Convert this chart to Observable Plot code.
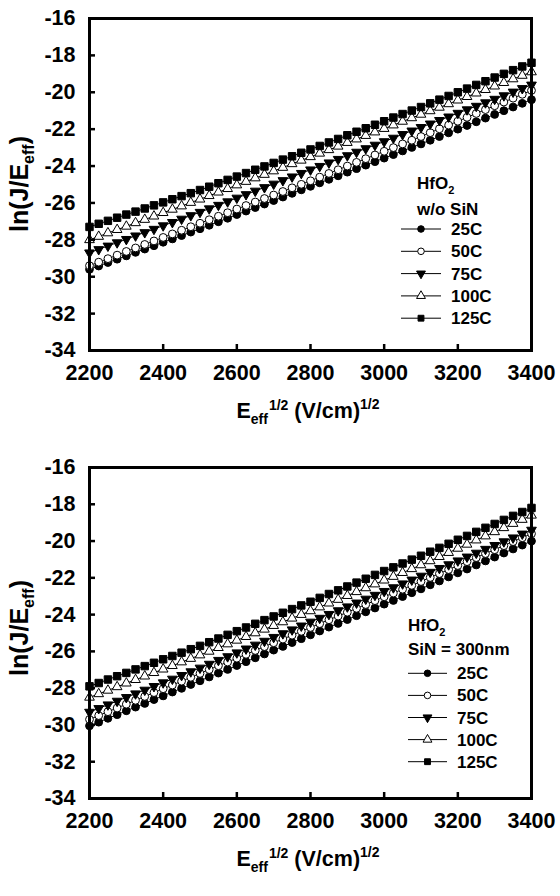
<!DOCTYPE html>
<html><head><meta charset="utf-8">
<script src="https://cdn.jsdelivr.net/npm/d3@7"></script>
<script src="https://cdn.jsdelivr.net/npm/@observablehq/plot@0.6"></script>
<style>
html,body{margin:0;padding:0;background:#fff;}
#wrap{position:relative;width:560px;height:896px;overflow:hidden;}
#wrap svg{position:absolute;left:0;display:block;}
</style></head><body><div id="wrap"></div>
<script>
// x grid: E_eff^1/2 (V/cm)^1/2
const E = [2200,2225,2250,2275,2300,2325,2350,2375,2400,2425,2450,2475,2500,
  2525,2550,2575,2600,2625,2650,2675,2700,2725,2750,2775,2800,
  2825,2850,2875,2900,2925,2950,2975,3000,3025,3050,3075,3100,
  3125,3150,3175,3200,3225,3250,3275,3300,3325,3350,3375,3400];

const seriesNames = ["25C","50C","75C","100C","125C"];
const xTicks = [2200,2400,2600,2800,3000,3200,3400];
const yTicks = [-34,-32,-30,-28,-26,-24,-22,-20,-18,-16];

// Top panel: HfO2 w/o SiN
const top25 = [-29.6,-29.42,-29.23,-29.05,-28.87,-28.68,-28.5,-28.32,-28.13,-27.95,-27.77,-27.58,-27.4,
  -27.21,-27.02,-26.83,-26.63,-26.44,-26.25,-26.06,-25.87,-25.68,-25.48,-25.29,-25.1,
  -24.91,-24.72,-24.53,-24.33,-24.14,-23.95,-23.76,-23.57,-23.38,-23.18,-22.99,-22.8,
  -22.6,-22.4,-22.2,-22.0,-21.8,-21.6,-21.4,-21.2,-21.0,-20.8,-20.6,-20.4];
const top50 = [-29.4,-29.21,-29.02,-28.83,-28.63,-28.44,-28.25,-28.06,-27.87,-27.68,-27.48,-27.29,-27.1,
  -26.91,-26.72,-26.53,-26.33,-26.14,-25.95,-25.76,-25.57,-25.38,-25.18,-24.99,-24.8,
  -24.6,-24.4,-24.2,-24.0,-23.8,-23.6,-23.4,-23.2,-23.0,-22.8,-22.6,-22.4,
  -22.19,-21.98,-21.78,-21.57,-21.36,-21.15,-20.94,-20.73,-20.53,-20.32,-20.11,-19.9];
const top75 = [-28.7,-28.52,-28.33,-28.15,-27.97,-27.78,-27.6,-27.42,-27.23,-27.05,-26.87,-26.68,-26.5,
  -26.31,-26.12,-25.93,-25.73,-25.54,-25.35,-25.16,-24.97,-24.78,-24.58,-24.39,-24.2,
  -24.01,-23.82,-23.63,-23.43,-23.24,-23.05,-22.86,-22.67,-22.48,-22.28,-22.09,-21.9,
  -21.71,-21.52,-21.33,-21.13,-20.94,-20.75,-20.56,-20.37,-20.18,-19.98,-19.79,-19.6];
const top100 = [-28.0,-27.82,-27.63,-27.45,-27.27,-27.08,-26.9,-26.72,-26.53,-26.35,-26.17,-25.98,-25.8,
  -25.61,-25.42,-25.23,-25.03,-24.84,-24.65,-24.46,-24.27,-24.08,-23.88,-23.69,-23.5,
  -23.31,-23.12,-22.93,-22.73,-22.54,-22.35,-22.16,-21.97,-21.78,-21.58,-21.39,-21.2,
  -21.01,-20.82,-20.63,-20.43,-20.24,-20.05,-19.86,-19.67,-19.48,-19.28,-19.09,-18.9];
const top125 = [-27.3,-27.13,-26.97,-26.8,-26.63,-26.47,-26.3,-26.13,-25.97,-25.8,-25.63,-25.47,-25.3,
  -25.12,-24.93,-24.75,-24.57,-24.38,-24.2,-24.02,-23.83,-23.65,-23.47,-23.28,-23.1,
  -22.91,-22.72,-22.53,-22.33,-22.14,-21.95,-21.76,-21.57,-21.37,-21.18,-20.99,-20.8,
  -20.6,-20.4,-20.2,-20.0,-19.8,-19.6,-19.4,-19.2,-19.0,-18.8,-18.6,-18.4];

// Bottom panel: HfO2 SiN = 300nm
const bot25 = [-30.05,-29.85,-29.64,-29.44,-29.23,-29.03,-28.83,-28.62,-28.42,-28.21,-28.01,-27.8,-27.6,
  -27.39,-27.18,-26.98,-26.77,-26.56,-26.35,-26.14,-25.93,-25.73,-25.52,-25.31,-25.1,
  -24.89,-24.68,-24.48,-24.27,-24.06,-23.85,-23.64,-23.43,-23.23,-23.02,-22.81,-22.6,
  -22.38,-22.17,-21.95,-21.73,-21.52,-21.3,-21.08,-20.87,-20.65,-20.43,-20.22,-20.0];
const bot50 = [-29.7,-29.49,-29.28,-29.08,-28.87,-28.66,-28.45,-28.24,-28.03,-27.83,-27.62,-27.41,-27.2,
  -26.99,-26.78,-26.58,-26.37,-26.16,-25.95,-25.74,-25.53,-25.33,-25.12,-24.91,-24.7,
  -24.49,-24.28,-24.08,-23.87,-23.66,-23.45,-23.24,-23.03,-22.83,-22.62,-22.41,-22.2,
  -21.98,-21.77,-21.55,-21.33,-21.12,-20.9,-20.68,-20.47,-20.25,-20.03,-19.82,-19.6];
const bot75 = [-29.3,-29.1,-28.9,-28.7,-28.5,-28.3,-28.1,-27.9,-27.7,-27.5,-27.3,-27.1,-26.9,
  -26.69,-26.48,-26.28,-26.07,-25.86,-25.65,-25.44,-25.23,-25.03,-24.82,-24.61,-24.4,
  -24.19,-23.98,-23.78,-23.57,-23.36,-23.15,-22.94,-22.73,-22.53,-22.32,-22.11,-21.9,
  -21.69,-21.48,-21.28,-21.07,-20.86,-20.65,-20.44,-20.23,-20.03,-19.82,-19.61,-19.4];
const bot100 = [-28.5,-28.31,-28.12,-27.93,-27.73,-27.54,-27.35,-27.16,-26.97,-26.78,-26.58,-26.39,-26.2,
  -26.0,-25.8,-25.6,-25.4,-25.2,-25.0,-24.8,-24.6,-24.4,-24.2,-24.0,-23.8,
  -23.59,-23.38,-23.18,-22.97,-22.76,-22.55,-22.34,-22.13,-21.93,-21.72,-21.51,-21.3,
  -21.08,-20.85,-20.63,-20.4,-20.18,-19.95,-19.73,-19.5,-19.28,-19.05,-18.83,-18.6];
const bot125 = [-27.9,-27.72,-27.53,-27.35,-27.17,-26.98,-26.8,-26.62,-26.43,-26.25,-26.07,-25.88,-25.7,
  -25.5,-25.3,-25.1,-24.9,-24.7,-24.5,-24.3,-24.1,-23.9,-23.7,-23.5,-23.3,
  -23.09,-22.88,-22.68,-22.47,-22.26,-22.05,-21.84,-21.63,-21.43,-21.22,-21.01,-20.8,
  -20.58,-20.37,-20.15,-19.93,-19.72,-19.5,-19.28,-19.07,-18.85,-18.63,-18.42,-18.2];

const topSeries = [top25, top50, top75, top100, top125];
const botSeries = [bot25, bot50, bot75, bot100, bot125];
const topLegendTitle2 = "w/o SiN";
const botLegendTitle2 = "SiN = 300nm";

// marker styles (order matches seriesNames)
const markerStyle = [
  {symbol: "circle", fill: "black", rotate: 0, r: 3.9},
  {symbol: "circle", fill: "white", rotate: 0, r: 3.9},
  {symbol: "triangle", fill: "black", rotate: 180, r: 3.6},
  {symbol: "triangle", fill: "white", rotate: 0, r: 3.6},
  {symbol: "square", fill: "black", rotate: 0, r: 4.2}
];
const d3sym = {circle: d3.symbolCircle, triangle: d3.symbolTriangle, square: d3.symbolSquare};

const FONT = "'Liberation Sans', Arial, Helvetica, sans-serif";

function makePanel(seriesVals, lay) {
  const rows = [];
  seriesVals.forEach((vals, s) => vals.forEach((v, i) => rows.push({x: E[i], y: v, series: seriesNames[s]})));
  const marks = [
    Plot.line(rows, {x: "x", y: "y", z: "series", stroke: "black", strokeWidth: 1})
  ];
  seriesNames.forEach((name, s) => {
    const m = markerStyle[s];
    marks.push(Plot.dot(rows.filter(d => d.series === name), {
      x: "x", y: "y", symbol: () => m.symbol, fill: m.fill, stroke: "black", strokeWidth: 1,
      r: m.r, rotate: m.rotate
    }));
  });
  marks.push(Plot.frame({stroke: "black", strokeWidth: 3}));
  marks.push(Plot.axisX(xTicks, {anchor: "bottom", tickSize: -6, tickPadding: 20, strokeWidth: 2.5,
    tickFormat: d => String(d), label: null, fontWeight: "bold"}));
  marks.push(Plot.axisY(yTicks, {anchor: "left", tickSize: -6, tickPadding: 20, strokeWidth: 2.5,
    tickFormat: d => String(d), label: null, fontWeight: "bold"}));

  const svg = Plot.plot({
    width: 560, height: lay.height,
    marginTop: lay.mt, marginBottom: lay.mb, marginLeft: lay.ml, marginRight: lay.mr,
    x: {domain: [2200, 3400]},
    y: {domain: [-34, -16]},
    symbol: {type: "identity"},
    style: {fontFamily: FONT, fontSize: "21.5px", fontWeight: "bold", color: "black", background: "white", overflow: "visible"},
    marks
  });
  const g = d3.select(svg);
  // x-axis label
  const xl = g.append("text").attr("x", lay.xlx).attr("y", lay.xly).attr("text-anchor", "middle")
    .attr("font-family", FONT).attr("font-weight", "bold").attr("font-size", 21.5).attr("fill", "black");
  xl.append("tspan").text("E");
  xl.append("tspan").attr("font-size", 14).attr("dy", 6).text("eff");
  xl.append("tspan").attr("font-size", 14).attr("dy", -14).attr("dx", 1).text("1/2");
  xl.append("tspan").attr("dy", 8).text("\u00a0(V/cm)");
  xl.append("tspan").attr("font-size", 14).attr("dy", -9).text("1/2");
  // y-axis label
  const yl = g.append("text").attr("transform", `translate(${lay.ylx},${lay.yly}) rotate(-90)`)
    .attr("text-anchor", "middle").attr("font-family", FONT).attr("font-weight", "bold")
    .attr("font-size", 25).attr("fill", "black");
  yl.append("tspan").text("ln(J/E");
  yl.append("tspan").attr("font-size", 16).attr("dy", 6).text("eff");
  yl.append("tspan").attr("dy", -6).text(")");
  // legend
  const L = g.append("g").attr("font-family", FONT).attr("font-weight", "bold").attr("font-size", 17)
    .attr("fill", "black").attr("text-anchor", "start");
  const t1 = L.append("text").attr("x", lay.lgTx).attr("y", lay.lgT1);
  t1.append("tspan").text("HfO");
  t1.append("tspan").attr("font-size", 11).attr("dy", 5).text("2");
  L.append("text").attr("x", lay.lgTx).attr("y", lay.lgT2).text(lay.title2);
  seriesNames.forEach((name, s) => {
    const cy = lay.lgY0 + s * lay.lgDy;
    const m = markerStyle[s];
    L.append("line").attr("x1", lay.lgX1).attr("x2", lay.lgX2).attr("y1", cy).attr("y2", cy)
      .attr("stroke", "black").attr("stroke-width", 1);
    L.append("path").attr("d", d3.symbol(d3sym[m.symbol], Math.PI * 3.3 * 3.3)())
      .attr("transform", `translate(${(lay.lgX1 + lay.lgX2) / 2},${cy}) rotate(${m.rotate})`)
      .attr("fill", m.fill).attr("stroke", "black").attr("stroke-width", 1);
    L.append("text").attr("x", lay.lgTxt).attr("y", cy + 6).text(name);
  });
  return svg;
}

const wrap = document.getElementById("wrap");
const topSvg = makePanel(topSeries, {
  height: 448, mt: 18, mb: 98, ml: 89, mr: 29,
  xlx: 308, xly: 418, ylx: 28, yly: 184,
  lgTx: 417, lgT1: 189, lgT2: 215, title2: topLegendTitle2,
  lgY0: 229, lgDy: 22.3, lgX1: 401, lgX2: 441, lgTxt: 451
});
topSvg.style.top = "0px";
wrap.appendChild(topSvg);
const botSvg = makePanel(botSeries, {
  height: 448, mt: 19, mb: 98, ml: 89, mr: 29,
  xlx: 308, xly: 866 - 448, ylx: 28, yly: 628 - 448,
  lgTx: 408, lgT1: 631 - 448, lgT2: 655 - 448, title2: botLegendTitle2,
  lgY0: 673.3 - 448, lgDy: 22.1, lgX1: 408, lgX2: 447, lgTxt: 457
});
botSvg.style.top = "448px";
wrap.appendChild(botSvg);
</script>
</body></html>
